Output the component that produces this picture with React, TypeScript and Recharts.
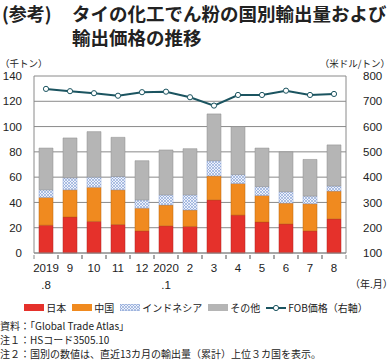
import React from 'react';
import { ComposedChart, Bar, Line, XAxis, YAxis, CartesianGrid } from 'recharts';

const months = ['2019\n.8', '9', '10', '11', '12', '2020\n.1', '2', '3', '4', '5', '6', '7', '8'];
const japan = [22, 28.5, 25, 22.5, 17.5, 21.5, 21, 42, 30, 24.5, 23, 17.5, 27];
const china = [22, 21.5, 27, 27.5, 18, 16.5, 13, 19, 25, 21, 16.5, 21.5, 22];
const indonesia = [6, 9.5, 8, 10.5, 6.5, 8, 12, 12, 7, 7, 9, 6, 4];
const others = [33, 31.5, 36, 31, 31, 35.5, 36.5, 37, 38, 30.5, 31.5, 29, 32.5];
const fobPrice = [749, 740, 732, 722, 736, 738, 716, 683, 725, 725, 742, 725, 729];

const leftTicks = [0, 20, 40, 60, 80, 100, 120, 140];
const rightTicks = [100, 200, 300, 400, 500, 600, 700, 800];

const data = months.map((m, i) => ({
  month: m,
  japan: japan[i],
  china: china[i],
  indonesia: indonesia[i],
  others: others[i],
  fob: fobPrice[i],
}));

const font = '"Liberation Sans", Arial, "Noto Sans CJK JP", sans-serif';
const jpFont = '"Noto Sans CJK JP", "Liberation Sans", sans-serif';
const axisGray = '#8a8a8a';

const MonthTick = ({ x, y, payload }: any) => {
  const lines = String(payload.value).split('\n');
  return (
    <g>
      <line x1={x - 12} x2={x - 12} y1={y} y2={y + 4} stroke={axisGray} />
      <line x1={x + 12} x2={x + 12} y1={y} y2={y + 4} stroke={axisGray} />
      {lines.map((t, i) => (
        <text key={i} x={x} y={y + 17 + i * 17} textAnchor="middle" fontSize={11.5} fill="#222" fontFamily={font}>
          {t}
        </text>
      ))}
    </g>
  );
};

const Swatch = ({ color, pattern }: { color: string; pattern?: boolean }) => (
  <svg width={20} height={7} style={{ marginRight: 2 }}>
    {pattern ? (
      <rect x={0} y={0} width={20} height={7} fill="url(#hatchLegend)" stroke="#7f9cd4" strokeWidth={0.6} />
    ) : (
      <rect x={0} y={0} width={20} height={7} fill={color} />
    )}
  </svg>
);

const titleStyle: React.CSSProperties = { position: 'absolute', fontWeight: 700, lineHeight: '24px', whiteSpace: 'nowrap' };

const App = () => {
  return (
    <div style={{ position: 'fixed', left: 0, top: 0, width: 392, height: 364, background: '#fff', overflow: 'hidden', fontFamily: jpFont, color: '#222' }}>
      <svg width={0} height={0} style={{ position: 'absolute' }}>
        <defs>
          <pattern id="hatchLegend" width="3" height="3" patternUnits="userSpaceOnUse">
            <rect width="3" height="3" fill="#eef2fb" />
            <path d="M0,0 L3,3 M3,0 L0,3" stroke="#7f9cd4" strokeWidth="0.6" />
          </pattern>
        </defs>
      </svg>

      {/* title */}
      <div style={{ ...titleStyle, left: 2, top: 1, fontSize: 18 }}>(参考)</div>
      <div style={{ ...titleStyle, left: 72, top: 1, fontSize: 18.5 }}>タイの化工でん粉の国別輸出量および</div>
      <div style={{ ...titleStyle, left: 72, top: 25, fontSize: 18.5 }}>輸出価格の推移</div>

      <div style={{ position: 'absolute', left: 0, top: 56, fontSize: 9.5 }}>（千トン）</div>
      <div style={{ position: 'absolute', right: 2, top: 56, fontSize: 9.5 }}>（米ドル/トン）</div>

      <div style={{ position: 'absolute', left: 0, top: 0 }}>
        <ComposedChart width={392} height={300} data={data} margin={{ top: 76, right: 0, bottom: 0, left: 0 }} barSize={14}>
          <defs>
            <pattern id="hatch" width="3" height="3" patternUnits="userSpaceOnUse">
              <rect width="3" height="3" fill="#eef2fb" />
              <path d="M0,0 L3,3 M3,0 L0,3" stroke="#7f9cd4" strokeWidth="0.6" />
            </pattern>
          </defs>
          <CartesianGrid horizontal vertical={false} stroke={axisGray} strokeWidth={1} yAxisId="left" />
          <XAxis
            dataKey="month"
            height={47}
            tick={<MonthTick />}
            tickLine={false}
            tickSize={0}
            axisLine={{ stroke: axisGray }}
            interval={0}
          />
          <YAxis
            yAxisId="left"
            width={34}
            domain={[0, 140]}
            ticks={leftTicks}
            tickLine={false}
            tickMargin={6}
            axisLine={{ stroke: axisGray }}
            tick={{ fontSize: 11.5, fill: '#222', fontFamily: font }}
          />
          <YAxis
            yAxisId="right"
            orientation="right"
            width={46}
            domain={[100, 800]}
            ticks={rightTicks}
            tickLine={false}
            tickMargin={11}
            axisLine={{ stroke: axisGray }}
            tick={{ fontSize: 11.5, fill: '#222', fontFamily: font, textAnchor: 'start' }}
          />
          <Bar yAxisId="left" dataKey="japan" stackId="a" fill="#e5312b" stroke="#b02622" strokeWidth={0.5} isAnimationActive={false} />
          <Bar yAxisId="left" dataKey="china" stackId="a" fill="#f08a1f" stroke="#b8650f" strokeWidth={0.5} isAnimationActive={false} />
          <Bar yAxisId="left" dataKey="indonesia" stackId="a" fill="url(#hatch)" stroke="#8aa2d2" strokeWidth={0.5} isAnimationActive={false} />
          <Bar yAxisId="left" dataKey="others" stackId="a" fill="#b5b5b5" stroke="#8c8c8c" strokeWidth={0.5} isAnimationActive={false} />
          <Line
            yAxisId="right"
            dataKey="fob"
            stroke="#1b5460"
            strokeWidth={2}
            dot={{ r: 2.6, fill: '#fff', stroke: '#1b5460', strokeWidth: 1 }}
            isAnimationActive={false}
          />
        </ComposedChart>
      </div>

      <div style={{ position: 'absolute', left: 350, top: 276, fontSize: 10, whiteSpace: 'nowrap' }}>（年.月）</div>

      {/* legend */}
      <div style={{ position: 'absolute', left: 0, width: 392, top: 300, display: 'flex', justifyContent: 'center', alignItems: 'center', fontSize: 10, whiteSpace: 'nowrap' }}>
        <Swatch color="#e5312b" />
        <span style={{ marginRight: 6 }}>日本</span>
        <Swatch color="#f08a1f" />
        <span style={{ marginRight: 6 }}>中国</span>
        <Swatch color="" pattern />
        <span style={{ marginRight: 6 }}>インドネシア</span>
        <Swatch color="#b5b5b5" />
        <span style={{ marginRight: 6 }}>その他</span>
        <svg width={20} height={8} style={{ marginRight: 2 }}>
          <line x1={0} x2={20} y1={4} y2={4} stroke="#1b5460" strokeWidth={2} />
          <circle cx={10} cy={4} r={2.6} fill="#fff" stroke="#1b5460" strokeWidth={1} />
        </svg>
        <span>FOB価格（右軸）</span>
      </div>

      {/* notes */}
      <div style={{ position: 'absolute', left: 0, top: 319, fontSize: 10, lineHeight: '14px', whiteSpace: 'nowrap' }}>
        <div>資料：「Global Trade Atlas」</div>
        <div>注１：HSコード3505.10</div>
        <div>注２：国別の数値は、直近13カ月の輸出量（累計）上位３カ国を表示。</div>
      </div>
    </div>
  );
};

export default App;
